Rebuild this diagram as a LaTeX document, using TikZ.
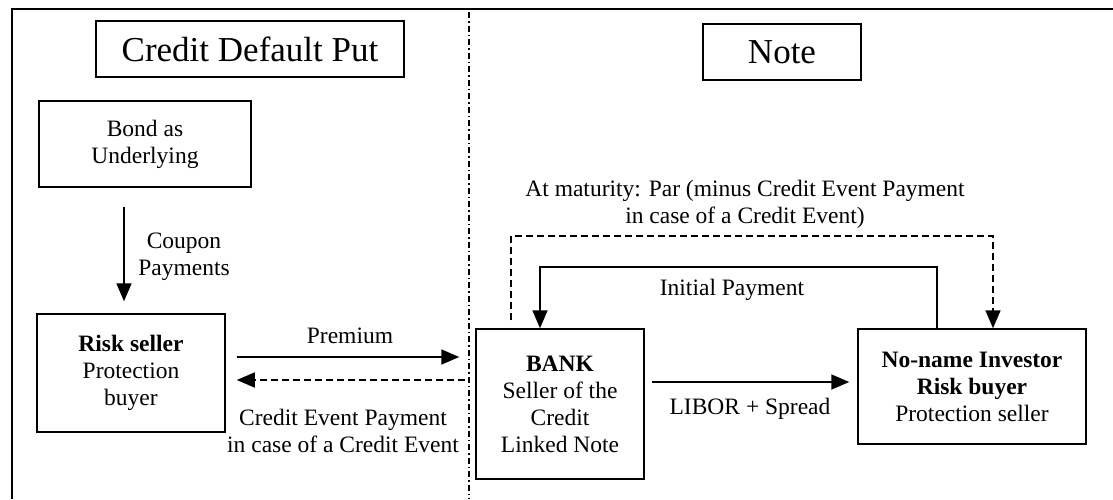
\documentclass[tikz,border=0pt]{standalone}
\usepackage{fontspec}
\setmainfont{Liberation Serif}
\usetikzlibrary{arrows.meta}
\begin{document}
\begin{tikzpicture}[x=1pt,y=-1pt,
  txt/.style={font=\fontsize{23.5}{27}\selectfont},
  box/.style={txt, draw, line width=1.5pt, align=center, inner sep=0pt},
  ttl/.style={draw, line width=1.5pt, inner sep=0pt, font=\fontsize{35}{40}\selectfont},
  lbl/.style={txt, align=center, inner sep=0pt},
  tip/.style={-{Triangle[length=18pt,width=15pt]}},
  arr/.style={line width=1.8pt, tip},
  darr/.style={line width=1.6pt, dash pattern=on 7pt off 4pt, tip},
  divider/.style={line width=1.6pt, dash pattern=on 6pt off 3pt on 1.5pt off 3pt}
]
\useasboundingbox (0,0) rectangle (1113,499);
% frame and divider
\coordinate (fl) at (12,499);
\coordinate (fc) at (12,9);
\coordinate (fr) at (1113,9);
\draw[line width=2pt] (fl) -- (fc) -- (fr);
\coordinate (dvt) at (469,12);
\coordinate (dvb) at (469,499);
\draw[divider] (dvt) -- (dvb);

% nodes
\node[ttl, minimum width=308pt, minimum height=56pt] (cdp) at (250,49) {Credit Default Put};
\node[ttl, minimum width=158pt, minimum height=56pt] (note) at (782,52) {Note};
\node[box, minimum width=212pt, minimum height=86pt] (bond) at (145,144) {Bond as\\Underlying};
\node[box, minimum width=188pt, minimum height=118pt] (risk) at (131,373) {\textbf{Risk seller}\\Protection\\buyer};
\node[box, minimum width=168pt, minimum height=150pt] (bank) at (560,404) {\textbf{BANK}\\Seller of the\\Credit\\Linked Note};
\node[box, minimum width=228pt, minimum height=115pt] (inv) at (972,386.5) {\textbf{No-name Investor}\\\textbf{Risk buyer}\\Protection seller};

% coupon payments
\coordinate (cx) at (124,0);
\draw[arr, shorten <=19pt, shorten >=12pt] (bond.south -| cx) -- (risk.north -| cx);
\node[lbl] (coupon) at (184,257) {Coupon\\Payments};

% premium and credit event payment
\coordinate (py) at (0,357);
\coordinate (cy) at (0,380);
\draw[arr, shorten <=11pt, shorten >=16pt] (risk.east |- py) -- (bank.west |- py);
\node[lbl] (prem) at (350,336) {Premium};
\draw[darr, shorten <=10pt, shorten >=11pt] (bank.west |- cy) -- (risk.east |- cy);
\node[lbl] (cep) at (343,431) {Credit Event Payment\\in case of a Credit Event};

% LIBOR + Spread
\coordinate (ly) at (0,382);
\draw[arr, shorten <=7pt, shorten >=8pt] (bank.east |- ly) -- (inv.west |- ly);
\node[lbl] (libor) at (750,409) {LIBOR + Spread};

% at maturity (dashed loop)
\coordinate (d1) at (511,236);
\coordinate (d2) at (993,236);
\draw[darr, shorten <=8pt] (bank.north -| d1) -- (d1) -- (d2) -- (inv.north -| d2);
\node[lbl] (mat) at (745,204) {At maturity: Par (minus Credit Event Payment\\in case of a Credit Event)};

% initial payment (solid loop)
\coordinate (s1) at (937,267);
\coordinate (s2) at (540,267);
\draw[arr] (inv.north -| s1) -- (s1) -- (s2) -- (bank.north -| s2);
\node[lbl] (init) at (732,290) {Initial Payment};
\end{tikzpicture}
\end{document}
